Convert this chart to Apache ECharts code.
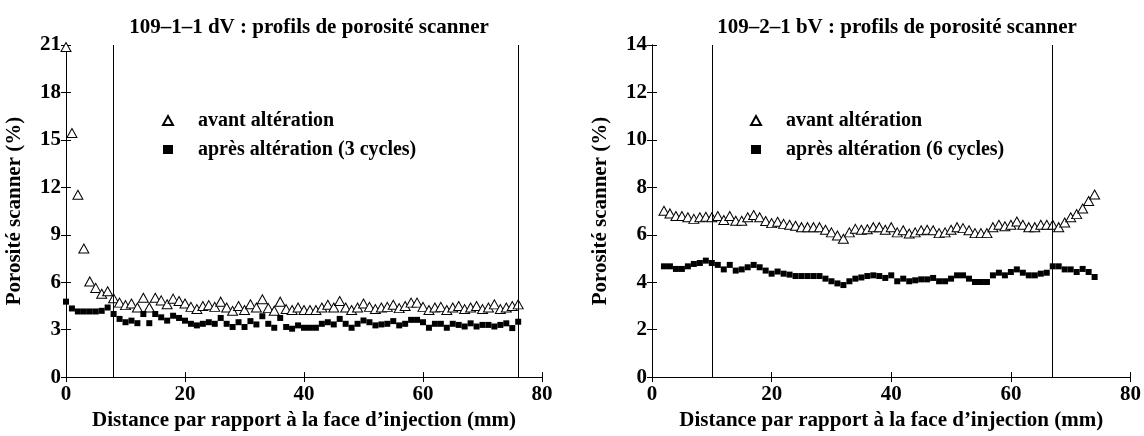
<!DOCTYPE html>
<html>
<head>
<meta charset="utf-8">
<script src="https://cdn.jsdelivr.net/npm/echarts@6/dist/echarts.min.js"></script>
<style>html,body{margin:0;padding:0;background:#fff;}#c{width:1144px;height:436px;}</style>
</head>
<body>
<div id="c"></div>
<script>
const titles = ['109\u20131\u20131 dV : profils de porosit\u00e9 scanner', '109\u20132\u20131 bV : profils de porosit\u00e9 scanner'];
const xAxisName = 'Distance par rapport \u00e0 la face d\u2019injection (mm)';
const yAxisName = 'Porosit\u00e9 scanner (%)';
const nameAvant = 'avant alt\u00e9ration';
const nameApresLeft = 'apr\u00e8s alt\u00e9ration (3 cycles)';
const nameApresRight = 'apr\u00e8s alt\u00e9ration (6 cycles)';

const xLeft = [0,1,2,3,4,5,6,7,8,9,10,11,12,13,14,15,16,17,18,19,20,21,22,23,24,25,26,27,28,29,30,31,32,33,34,35,36,37,38,39,40,41,42,43,44,45,46,47,48,49,50,51,52,53,54,55,56,57,58,59,60,61,62,63,64,65,66,67,68,69,70,71,72,73,74,75,76];
const avantLeft = [20.87,15.43,11.53,8.13,6.05,5.64,5.27,5.43,4.98,4.71,4.55,4.65,4.4,5.02,4.4,5.02,4.85,4.61,4.96,4.81,4.65,4.44,4.3,4.5,4.55,4.44,4.77,4.4,4.19,4.5,4.24,4.61,4.4,4.92,4.36,4.2,4.77,4.3,4.24,4.4,4.24,4.24,4.24,4.4,4.57,4.4,4.81,4.4,4.24,4.4,4.65,4.44,4.3,4.4,4.44,4.57,4.36,4.5,4.71,4.71,4.44,4.24,4.4,4.44,4.24,4.4,4.5,4.3,4.4,4.5,4.3,4.4,4.6,4.3,4.4,4.5,4.6];
const apresLeft = [4.77,4.34,4.15,4.15,4.15,4.15,4.19,4.4,3.99,3.68,3.47,3.57,3.41,3.99,3.41,3.99,3.78,3.57,3.88,3.74,3.57,3.37,3.27,3.37,3.47,3.37,3.74,3.37,3.17,3.47,3.17,3.54,3.33,3.85,3.37,3.12,3.74,3.17,3.06,3.27,3.12,3.12,3.12,3.37,3.47,3.33,3.68,3.37,3.12,3.37,3.58,3.47,3.27,3.33,3.37,3.54,3.27,3.37,3.62,3.62,3.47,3.12,3.37,3.37,3.12,3.37,3.3,3.2,3.4,3.2,3.3,3.3,3.2,3.3,3.4,3.1,3.5];
const limitsLeft = [8, 76];

const xRight = [2,3,4,5,6,7,8,9,10,11,12,13,14,15,16,17,18,19,20,21,22,23,24,25,26,27,28,29,30,31,32,33,34,35,36,37,38,39,40,41,42,43,44,45,46,47,48,49,50,51,52,53,54,55,56,57,58,59,60,61,62,63,64,65,66,67,68,69,70,71,72,73,74];
const avantRight = [7.01,6.9,6.79,6.79,6.74,6.67,6.74,6.76,6.74,6.79,6.62,6.79,6.59,6.59,6.74,6.83,6.74,6.58,6.49,6.55,6.46,6.42,6.38,6.32,6.32,6.32,6.32,6.21,6.1,5.97,5.83,6.1,6.25,6.21,6.23,6.32,6.32,6.21,6.32,6.1,6.19,6.05,6.1,6.19,6.21,6.19,6.07,6.1,6.21,6.32,6.28,6.19,6.07,6.07,6.07,6.32,6.42,6.36,6.42,6.56,6.42,6.32,6.32,6.42,6.42,6.42,6.32,6.52,6.74,6.87,7.11,7.42,7.7];
const apresRight = [4.67,4.67,4.56,4.56,4.67,4.77,4.81,4.91,4.81,4.73,4.54,4.73,4.49,4.54,4.63,4.73,4.63,4.49,4.36,4.45,4.36,4.32,4.26,4.26,4.26,4.26,4.26,4.15,4.04,3.95,3.88,4.04,4.15,4.2,4.26,4.29,4.26,4.18,4.29,4.04,4.15,4.04,4.08,4.12,4.12,4.18,4.04,4.04,4.15,4.29,4.29,4.15,4.01,4.01,4.01,4.29,4.4,4.29,4.43,4.54,4.4,4.29,4.29,4.36,4.4,4.67,4.67,4.54,4.54,4.43,4.56,4.43,4.22];
const limitsRight = [10, 67];

const yMaxLeft = 21, yStepLeft = 3;
const yMaxRight = 14, yStepRight = 2;
const xMax = 80, xStep = 20;

const FONT = '"Liberation Serif", "Times New Roman", serif';
const txt = {fontFamily: FONT, fontWeight: 'bold', fontSize: 21, color: '#000'};

function pairs(xs, ys) { return xs.map((x, i) => [x, ys[i]]); }

const grids = [
  {left: 66, right: 602, top: 45, bottom: 52},
  {left: 652, right: 11, top: 45, bottom: 52}
];

function xAxes(gi) {
  const base = {gridIndex: gi, type: 'value', min: 0, max: xMax, interval: xStep,
    axisLine: {show: true, lineStyle: {color: '#000', width: 1}},
    axisTick: {show: true, inside: true, length: 5, lineStyle: {color: '#000'}},
    splitLine: {show: false}};
  return [
    Object.assign({}, base, {position: 'bottom',
      axisLabel: Object.assign({}, txt, {margin: 7}),
      name: xAxisName, nameLocation: 'middle', nameGap: 32, nameTextStyle: txt}),
    Object.assign({}, base, {position: 'top', axisLabel: {show: false}})
  ];
}
function yAxes(gi, max, step) {
  const base = {gridIndex: gi, type: 'value', min: 0, max: max, interval: step,
    axisLine: {show: true, lineStyle: {color: '#000', width: 1}},
    axisTick: {show: true, inside: true, length: 5, lineStyle: {color: '#000'}},
    splitLine: {show: false}};
  return [
    Object.assign({}, base, {position: 'left',
      axisLabel: Object.assign({}, txt, {margin: 5}),
      name: yAxisName, nameLocation: 'middle', nameGap: 41, nameRotate: 90, nameTextStyle: txt}),
    Object.assign({}, base, {position: 'right', axisLabel: {show: false}})
  ];
}

function triSeries(name, xi, yi, data, limits) {
  const s = {name: name, type: 'scatter', xAxisIndex: xi, yAxisIndex: yi, data: data,
    symbol: 'triangle', symbolSize: [10, 9],
    itemStyle: {color: '#fff', borderColor: '#000', borderWidth: 1, opacity: 1}, z: 3};
  if (limits) {
    s.markLine = {silent: true, symbol: 'none', animation: false,
      label: {show: false},
      lineStyle: {color: '#000', width: 1, type: 'solid'},
      emphasis: {disabled: true},
      data: limits.map(v => ({xAxis: v}))};
  }
  return s;
}
function sqSeries(name, xi, yi, data) {
  return {name: name, type: 'scatter', xAxisIndex: xi, yAxisIndex: yi, data: data,
    symbol: 'rect', symbolSize: 6, itemStyle: {color: '#000', opacity: 1}, z: 4};
}

const legendBase = {orient: 'vertical', itemWidth: 10, itemHeight: 9, itemGap: 8,
  textStyle: Object.assign({}, txt, {fontSize: 20, lineHeight: 21, padding: [0, 0, 0, 20]}),
  selectedMode: false};

const option = {
  animation: false,
  backgroundColor: '#fff',
  title: [
    {text: titles[0], left: 304, top: 12, textAlign: 'center', textStyle: txt},
    {text: titles[1], left: 892, top: 12, textAlign: 'center', textStyle: txt}
  ],
  legend: [
    Object.assign({}, legendBase, {left: 157, top: 105, data: [nameAvant, nameApresLeft]}),
    Object.assign({}, legendBase, {left: 745, top: 105, data: [nameAvant, nameApresRight]})
  ],
  grid: grids,
  xAxis: xAxes(0).concat(xAxes(1)),
  yAxis: yAxes(0, yMaxLeft, yStepLeft).concat(yAxes(1, yMaxRight, yStepRight)),
  series: [
    triSeries(nameAvant, 0, 0, pairs(xLeft, avantLeft), limitsLeft),
    sqSeries(nameApresLeft, 0, 0, pairs(xLeft, apresLeft)),
    triSeries(nameAvant, 2, 2, pairs(xRight, avantRight), limitsRight),
    sqSeries(nameApresRight, 2, 2, pairs(xRight, apresRight))
  ]
};

const chart = echarts.init(document.getElementById('c'), null, {renderer: 'canvas'});
chart.setOption(option);
</script>
</body>
</html>
